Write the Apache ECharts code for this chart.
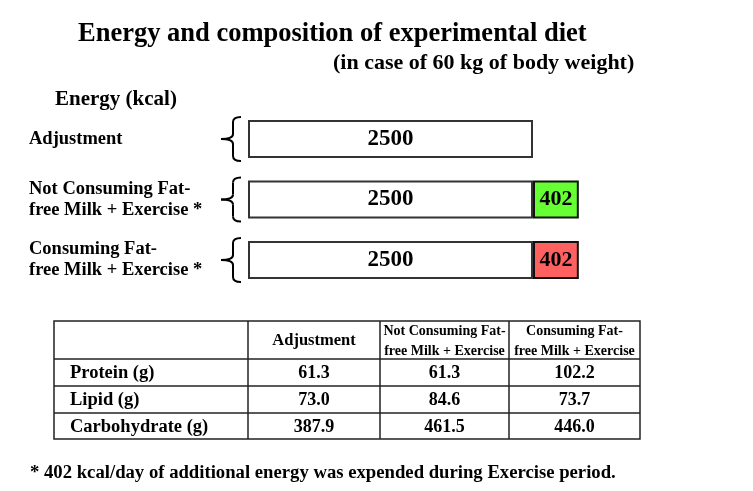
<!DOCTYPE html>
<html>
<head>
<meta charset="utf-8">
<script src="https://cdn.jsdelivr.net/npm/echarts@6/dist/echarts.min.js"></script>
<style>
html,body{margin:0;padding:0;background:#fff;}
#main{width:753px;height:491px;}
</style>
</head>
<body>
<div id="main"></div>
<script>
// ---- data ----
const categories = ['Adjustment', 'Not Consuming Fat-\nfree Milk + Exercise *', 'Consuming Fat-\nfree Milk + Exercise *'];
const baseEnergy = [2500, 2500, 2500];
const extraEnergy = [null, 402, 402];
const extraColors = ['#ffffff', '#66ff33', '#ff6161'];
const tableColumns = ['Adjustment', 'Not Consuming Fat-\nfree Milk + Exercise', 'Consuming Fat-\nfree Milk + Exercise'];
const nutrients = ['Protein (g)', 'Lipid (g)', 'Carbohydrate (g)'];
const protein = [61.3, 61.3, 102.2];
const lipid = [73.0, 84.6, 73.7];
const carbohydrate = [387.9, 461.5, 446.0];
const tableValues = [protein, lipid, carbohydrate];

const FONT = '"Liberation Serif", "Times New Roman", serif';
const chart = echarts.init(document.getElementById('main'));

const option = {
  backgroundColor: '#ffffff',
  animation: false,
  title: [
    { text: 'Energy and composition of experimental diet', left: 78, top: 21, padding: 0,
      textStyle: { fontFamily: FONT, fontSize: 26.5, fontWeight: 'bold', color: '#000' } },
    { text: '(in case of 60 kg of body weight)', left: 333, top: 52, padding: 0,
      textStyle: { fontFamily: FONT, fontSize: 22, fontWeight: 'bold', color: '#000' } },
    { text: 'Energy (kcal)', left: 55, top: 89, padding: 0,
      textStyle: { fontFamily: FONT, fontSize: 21, fontWeight: 'bold', color: '#000' } },
    { text: '* 402 kcal/day of additional energy was expended during Exercise period.', left: 30, top: 464, padding: 0,
      textStyle: { fontFamily: FONT, fontSize: 18.7, fontWeight: 'bold', color: '#000' } }
  ],
  grid: { left: 248, right: 163, top: 108.75, height: 181.5, containLabel: false },
  xAxis: { type: 'value', min: 0, max: 3000, show: false },
  yAxis: {
    type: 'category', data: categories, inverse: true,
    axisLine: { show: false }, axisTick: { show: false }, splitLine: { show: false },
    axisLabel: { align: 'left', margin: 219, fontFamily: FONT, fontSize: 18.5, fontWeight: 'bold',
      color: '#000', lineHeight: 21 }
  },
  series: [
    { type: 'bar', stack: 'e', data: baseEnergy, barWidth: 38,
      itemStyle: { color: '#ffffff', borderColor: '#333', borderWidth: 2 },
      label: { show: true, position: 'inside', fontFamily: FONT, fontSize: 23, fontWeight: 'bold', color: '#000' } },
    { type: 'bar', stack: 'e', barWidth: 38,
      data: extraEnergy.map((v, i) => v == null ? null : { value: v, itemStyle: { color: extraColors[i] } }),
      itemStyle: { borderColor: '#111', borderWidth: 2 },
      label: { show: true, position: 'inside', fontFamily: FONT, fontSize: 22, fontWeight: 'bold', color: '#000' } }
  ]
};
chart.setOption(option);

// ---- braces (positioned from the axis scale) ----
const gfx = [];
const braceStyle = { fill: null, stroke: '#000', lineWidth: 2 };
categories.forEach((c, i) => {
  const p = chart.convertToPixel({ gridIndex: 0 }, [0, i]);
  const cy = p[1], x0 = p[0];
  const h = 22, xe = x0 - 7, xv = x0 - 15, xt = x0 - 27, r = 5;
  gfx.push({ type: 'bezierCurve', silent: true, shape: { x1: xe, y1: cy - h, x2: xv, y2: cy - h + r, cpx1: xv, cpy1: cy - h }, style: braceStyle });
  gfx.push({ type: 'line', silent: true, shape: { x1: xv, y1: cy - h + r, x2: xv, y2: cy - r }, style: braceStyle });
  gfx.push({ type: 'bezierCurve', silent: true, shape: { x1: xv, y1: cy - r, x2: xt, y2: cy, cpx1: xv, cpy1: cy }, style: braceStyle });
  gfx.push({ type: 'bezierCurve', silent: true, shape: { x1: xt, y1: cy, x2: xv, y2: cy + r, cpx1: xv, cpy1: cy }, style: braceStyle });
  gfx.push({ type: 'line', silent: true, shape: { x1: xv, y1: cy + r, x2: xv, y2: cy + h - r }, style: braceStyle });
  gfx.push({ type: 'bezierCurve', silent: true, shape: { x1: xv, y1: cy + h - r, x2: xe, y2: cy + h, cpx1: xv, cpy1: cy + h }, style: braceStyle });
});

// ---- table ----
const colX = [54, 248, 380, 509, 640];
const rowY = [321, 359, 386, 413, 439];
const lineStyle = { stroke: '#222', lineWidth: 1.5 };
gfx.push({ type: 'rect', silent: true, shape: { x: colX[0], y: rowY[0], width: colX[4] - colX[0], height: rowY[4] - rowY[0] },
  style: { fill: '#fff', stroke: '#222', lineWidth: 1.5 } });
for (let i = 1; i < 4; i++) {
  gfx.push({ type: 'line', silent: true, shape: { x1: colX[0], y1: rowY[i], x2: colX[4], y2: rowY[i] }, style: lineStyle });
  gfx.push({ type: 'line', silent: true, shape: { x1: colX[i], y1: rowY[0], x2: colX[i], y2: rowY[4] }, style: lineStyle });
}
tableColumns.forEach((t, j) => {
  const multi = t.indexOf('\n') >= 0;
  gfx.push({ type: 'text', silent: true,
    style: { text: t, x: (colX[j + 1] + colX[j + 2]) / 2, y: (rowY[0] + rowY[1]) / 2 + 1,
      align: 'center', verticalAlign: 'middle', font: `bold ${multi ? 14 : 16.5}px ${FONT}`, lineHeight: 20, fill: '#000' } });
});
nutrients.forEach((n, r) => {
  const cy = (rowY[r + 1] + rowY[r + 2]) / 2 + 1;
  gfx.push({ type: 'text', silent: true,
    style: { text: n, x: 70, y: cy, align: 'left', verticalAlign: 'middle', font: `bold 18.5px ${FONT}`, fill: '#000' } });
  tableValues[r].forEach((v, j) => {
    gfx.push({ type: 'text', silent: true,
      style: { text: v.toFixed(1), x: (colX[j + 1] + colX[j + 2]) / 2, y: cy, align: 'center', verticalAlign: 'middle', font: `bold 18px ${FONT}`, fill: '#000' } });
  });
});
chart.setOption({ graphic: gfx });
</script>
</body>
</html>
